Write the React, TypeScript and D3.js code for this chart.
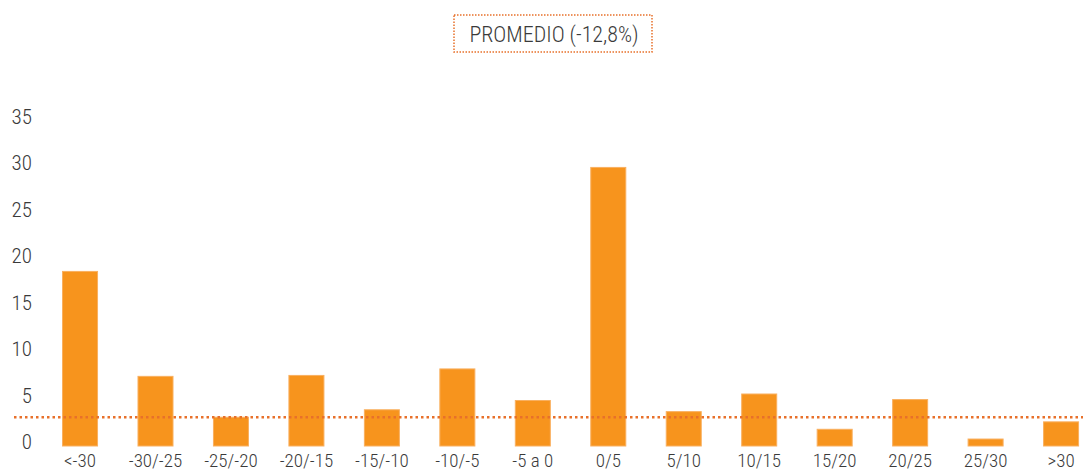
import React from "react";
import * as d3 from "d3";

const categories = ["<-30", "-30/-25", "-25/-20", "-20/-15", "-15/-10", "-10/-5", "-5 a 0", "0/5", "5/10", "10/15", "15/20", "20/25", "25/30", ">30"];
const values = [18.8, 7.5, 3.1, 7.6, 3.9, 8.3, 4.9, 30.0, 3.7, 5.6, 1.8, 5.0, 0.75, 2.6];
const yTicks = [0, 5, 10, 15, 20, 25, 30, 35];
const referenceValue = 3.1;
const legendLabel = "PROMEDIO (-12,8%)";

const W = 1083;
const H = 470;
const FONT = "'Liberation Sans Narrow', 'Roboto Condensed', 'Open Sans', sans-serif";

export default function App() {
  const x = d3.scaleBand<string>().domain(categories).range([42.3, 1098.8]).paddingInner(0.536).paddingOuter(0.268);
  const y = d3.scaleLinear().domain([0, 35]).range([446, 121]);
  const textColor = "#3a3a3a";
  const orange = "#F7941D";
  const lineOrange = "#E8702A";
  return (
    <svg width={W} height={H} style={{ position: "absolute", left: 0, top: 0, background: "#fff" }}>
      <rect x={454} y={15} width={198} height={37} fill="none" stroke={lineOrange} strokeWidth={1.5} strokeDasharray="1.5 1.5" />
      <text x={554} y={34} textAnchor="middle" dominantBaseline="central" fontFamily={FONT} fontWeight={300} fontSize={22} fill={textColor}>{legendLabel}</text>
      {yTicks.map((t) => (
        <text key={t} x={32} y={y(t) - 4} textAnchor="end" dominantBaseline="central" fontFamily={FONT} fontWeight={300} fontSize={21} fill={textColor}>{t}</text>
      ))}
      {categories.map((c, i) => (
        <rect key={c} x={x(c)} y={y(values[i])} width={x.bandwidth()} height={y(0) - y(values[i])} fill={orange} stroke="#F9B060" strokeWidth={1} />
      ))}
      <line x1={14} x2={1083} y1={y(referenceValue)} y2={y(referenceValue)} stroke={lineOrange} strokeWidth={2.5} strokeDasharray="2.5 3" />
      {categories.map((c) => (
        <text key={c} x={(x(c) as number) + x.bandwidth() / 2} y={460} textAnchor="middle" dominantBaseline="central" fontFamily={FONT} fontWeight={300} fontSize={19} fill={textColor}>{c}</text>
      ))}
    </svg>
  );
}
